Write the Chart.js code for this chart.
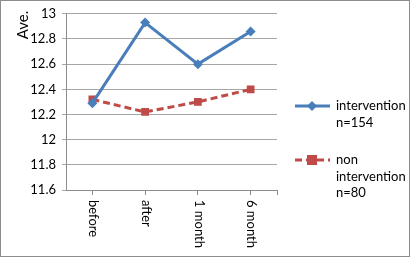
<!DOCTYPE html>
<html>
<head>
<meta charset="utf-8">
<script src="https://cdn.jsdelivr.net/npm/chart.js@4/dist/chart.umd.min.js"></script>
<style>
  html, body { margin: 0; padding: 0; background: #fff; }
  #wrap { width: 410px; height: 257px; position: relative; }
</style>
</head>
<body>
<div id="wrap"><canvas id="aveChart" width="410" height="257"></canvas></div>
<script>
const categories = ['before', 'after', '1 month', '6 month'];
const intervention = [12.29, 12.93, 12.6, 12.86];
const nonIntervention = [12.32, 12.22, 12.3, 12.4];
const legendLines = [['intervention', 'n=154'], ['non', 'intervention', 'n=80']];
const yTitle = 'Ave.';

const FONT = 'Lato, "Liberation Sans", sans-serif';
const BLUE = '#4a7ebb';
const RED = '#be4b48';

// draws frame, y title, rotated x labels, and the legend
const extras = {
  id: 'extras',
  afterDraw(chart) {
    const c = chart.ctx;
    const x = chart.scales.x;
    const a = chart.chartArea;
    c.save();
    c.strokeStyle = '#8c8c8c';
    c.lineWidth = 1;
    c.strokeRect(0.5, 0.5, 409, 256);

    // end tick on category axis
    c.beginPath();
    c.moveTo(Math.round(a.right) + 0.5, a.bottom);
    c.lineTo(Math.round(a.right) + 0.5, a.bottom + 5);
    c.stroke();

    c.fillStyle = '#000';

    // y title
    c.save();
    c.translate(23, 25);
    c.rotate(-Math.PI / 2);
    c.textAlign = 'center';
    c.textBaseline = 'middle';
    c.font = '15px ' + FONT;
    c.fillText(yTitle, 0, 0);
    c.restore();

    // x labels, rotated clockwise
    categories.forEach((lab, i) => {
      const px = x.getPixelForValue(i);
      c.save();
      c.translate(px + 1, a.bottom + 10);
      c.rotate(Math.PI / 2);
      c.textAlign = 'left';
      c.textBaseline = 'middle';
      c.font = '13px ' + FONT;
      c.fillText(lab, 0, 0);
      c.restore();
    });

    // legend
    const items = [
      { color: BLUE, dash: [], y: 106, marker: 'diamond' },
      { color: RED, dash: [7, 4], y: 160, marker: 'square' }
    ];
    items.forEach((it, k) => {
      c.save();
      c.strokeStyle = it.color;
      c.lineWidth = 3;
      c.setLineDash(it.dash);
      c.beginPath();
      c.moveTo(295, it.y);
      c.lineTo(330, it.y);
      c.stroke();
      c.setLineDash([]);
      c.fillStyle = it.color;
      c.beginPath();
      if (it.marker === 'diamond') {
        c.moveTo(312, it.y - 5); c.lineTo(317, it.y); c.lineTo(312, it.y + 5); c.lineTo(307, it.y);
      } else {
        c.rect(307, it.y - 5, 10, 10);
      }
      c.closePath();
      c.fill();
      c.restore();
      c.fillStyle = '#000';
      c.font = '13px ' + FONT;
      c.textAlign = 'left';
      c.textBaseline = 'middle';
      legendLines[k].forEach((t, j) => c.fillText(t, 336, it.y + j * 16.5));
    });
    c.restore();
  }
};

new Chart(document.getElementById('aveChart'), {
  type: 'line',
  data: {
    labels: categories,
    datasets: [
      {
        label: 'intervention n=154',
        data: intervention,
        borderColor: BLUE,
        backgroundColor: BLUE,
        borderWidth: 3,
        pointStyle: 'rectRot',
        pointRadius: 5,
        pointBorderWidth: 0,
        tension: 0
      },
      {
        label: 'non intervention n=80',
        data: nonIntervention,
        borderColor: RED,
        backgroundColor: RED,
        borderWidth: 3,
        borderDash: [7, 4],
        pointStyle: 'rect',
        pointRadius: 5.5,
        pointBorderWidth: 0,
        tension: 0
      }
    ]
  },
  options: {
    responsive: false,
    animation: false,
    layout: { padding: { left: 0, top: 13, right: 133, bottom: 0 } },
    plugins: { legend: { display: false }, tooltip: { enabled: false } },
    scales: {
      x: {
        offset: true,
        grid: { display: true, drawOnChartArea: false, offset: false, tickLength: 5, color: '#8c8c8c' },
        border: { color: '#8c8c8c' },
        ticks: { display: false },
        afterFit(s) { s.height = 67; }
      },
      y: {
        min: 11.6,
        max: 13,
        grid: { color: '#a6a6a6', tickLength: 4 },
        border: { color: '#8c8c8c' },
        ticks: {
          stepSize: 0.2,
          color: '#000',
          padding: 6,
          font: { family: FONT, size: 13 },
          callback: v => Math.round(v * 10) / 10
        },
        afterFit(s) { s.width = 66; }
      }
    }
  },
  plugins: [extras]
});
</script>
</body>
</html>
